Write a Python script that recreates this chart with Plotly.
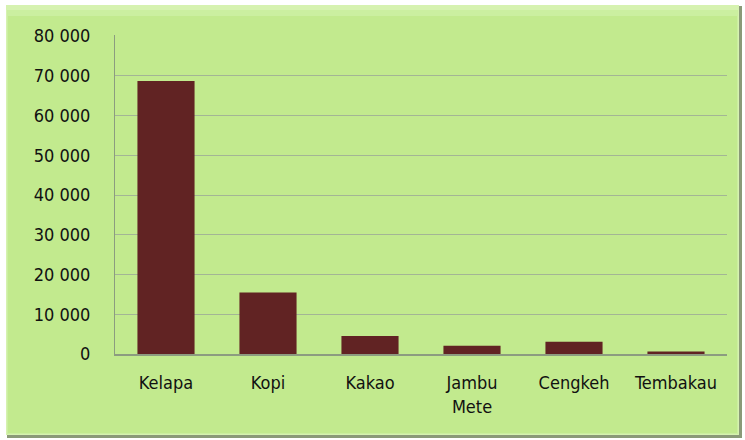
import plotly.graph_objects as go

# data
komoditas = ["Kelapa", "Kopi", "Kakao", "Jambu<br>Mete", "Cengkeh", "Tembakau"]
produksi = [68700, 15450, 4500, 2100, 3100, 600]
y_ticks = [0, 10000, 20000, 30000, 40000, 50000, 60000, 70000, 80000]

green = "#c2ea8e"
bar_color = "#612323"

# plot area in pixels (for the frame shape)
L, R, T, B = 115, 727, 35, 354
W, H = 745, 440
pw, ph = R - L, B - T


def px_x(p):
    return (p - L) / pw


def px_y(p):
    return (B - p) / ph


fig = go.Figure()
fig.add_trace(go.Bar(
    x=komoditas,
    y=produksi,
    marker=dict(color=bar_color, line=dict(width=0)),
    width=0.56,
))

# outer green frame with bevelled look
fig.add_shape(type="rect", xref="paper", yref="paper", layer="below",
              x0=px_x(7), x1=px_x(742), y0=px_y(438), y1=px_y(6),
              fillcolor="#8a9a78", line=dict(width=0))
fig.add_shape(type="rect", xref="paper", yref="paper", layer="below",
              x0=px_x(6), x1=px_x(739), y0=px_y(435), y1=px_y(5),
              fillcolor="#d6f2b0", line=dict(width=0))
fig.add_shape(type="rect", xref="paper", yref="paper", layer="below",
              x0=px_x(7), x1=px_x(738), y0=px_y(434), y1=px_y(10),
              fillcolor="#cbefa0", line=dict(width=0))
fig.add_shape(type="rect", xref="paper", yref="paper", layer="below",
              x0=px_x(8), x1=px_x(737), y0=px_y(433), y1=px_y(16),
              fillcolor=green, line=dict(width=0))

fig.update_layout(
    width=W, height=H,
    margin=dict(l=L, r=W - R, t=T, b=H - B),
    paper_bgcolor="white",
    plot_bgcolor="rgba(0,0,0,0)",
    separators=". ",
    font=dict(family="DejaVu Sans Condensed, Liberation Sans, sans-serif", size=18, color="#111111"),
    showlegend=False,
    bargap=0.44,
)
fig.update_xaxes(
    showline=True, linecolor="#8c9c80", linewidth=1.5,
    ticks="outside", ticklen=12, tickcolor="rgba(0,0,0,0)",
    showgrid=False, automargin=False,
)
fig.update_yaxes(
    range=[0, 80250], tickvals=y_ticks, tickformat=",d",
    showline=True, linecolor="#8c9c80", linewidth=1,
    showgrid=True, gridcolor="#a3b595", gridwidth=1.2,
    ticks="outside", ticklen=20, tickcolor="rgba(0,0,0,0)",
    zeroline=False, automargin=False,
)

fig.write_html("out.html", config={"displayModeBar": False},
               post_script="document.body.style.margin='0';")
